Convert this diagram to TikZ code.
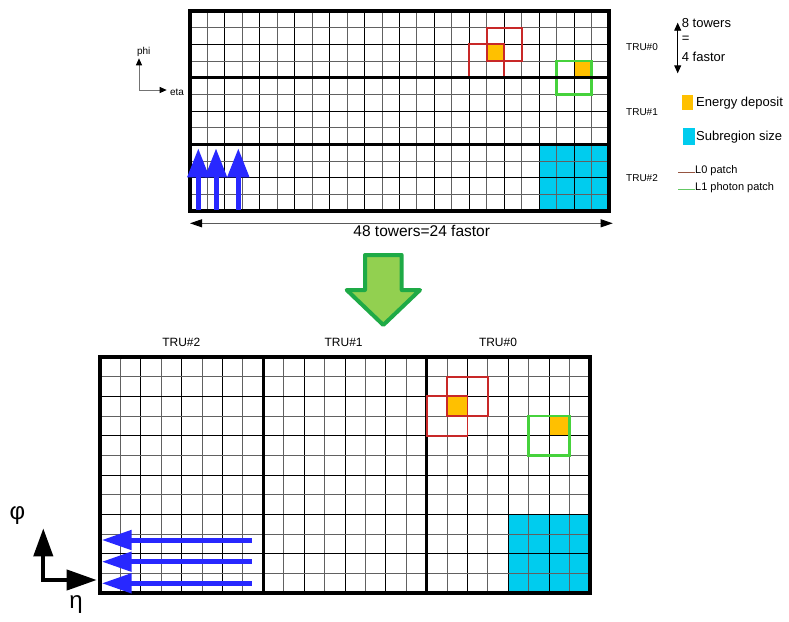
\documentclass[tikz,border=0pt]{standalone}
\usepackage{fontspec}
\setmainfont{Liberation Sans}
\usepackage{tikz}
\usetikzlibrary{arrows.meta}
\definecolor{depositorange}{RGB}{255,192,0}
\definecolor{subcyan}{RGB}{0,204,238}
\definecolor{flowblue}{RGB}{40,40,255}
\definecolor{lzerored}{RGB}{200,40,40}
\definecolor{lonegreen}{RGB}{70,210,60}
\definecolor{lzerokey}{RGB}{150,85,65}
\definecolor{lonekey}{RGB}{100,200,100}
\definecolor{bigarrowfill}{RGB}{146,208,80}
\definecolor{bigarrowedge}{RGB}{30,170,70}
\tikzset{
  gridthin/.style={
    line width = 1pt,
    black
  },
  gridlight/.style={
    line width = 1pt,
    black!62
  },
  truline/.style={
    line width = 3pt,
    black
  },
  frame/.style={
    line width = 4pt,
    black,
    line join = miter
  },
  lzero/.style={
    line width = 1.7pt,
    draw = lzerored
  },
  lone/.style={
    line width = 2.6pt,
    draw = lonegreen
  },
}
\tikzset{
  flowup/.style={
    line width = 5pt,
    flowblue,
    -{Triangle[length=29pt,width=21pt]}
  },
  flowleft/.style={
    line width = 5pt,
    flowblue,
    -{Triangle[length=30pt,width=19pt]}
  },
  axisbig/.style={
    line width = 4pt,
    black,
    line join = miter,
    {Triangle[length=28pt,width=19pt]}-{Triangle[length=30pt,width=20pt]}
  },
  axissmall/.style={
    line width = 0.8pt,
    black!55,
    {Triangle[length=7pt,width=6pt,color=black]}-{Triangle[length=7pt,width=6pt,color=black]}
  },
  span/.style={
    line width = 0.9pt,
    black!65,
    {Triangle[length=12pt,width=8pt,color=black]}-{Triangle[length=12pt,width=8pt,color=black]}
  },
  trulabel/.style={
    font = \fontsize{10}{12}\selectfont,
    inner sep = 0pt
  },
  keytext/.style={
    anchor = west,
    font = \fontsize{13}{15}\selectfont,
    inner sep = 0pt
  },
  patchtext/.style={
    anchor = west,
    font = \fontsize{11}{13}\selectfont,
    inner sep = 0pt
  },
  axislabel/.style={
    font = \fontsize{24}{26}\selectfont,
    inner sep = 0pt
  }
}
% cells and deposits, in units of one fastor
\newcommand{\fastorcells}{%
  \fill[subcyan] (20,8) rectangle (24,12);
  \fill[depositorange] (17,2) rectangle (18,3);
  \fill[depositorange] (22,3) rectangle (23,4);
  \foreach \i in {1,3,...,23} \draw[gridlight] (\i,0) -- (\i,12);
  \foreach \i in {2,4,...,22} \draw[gridthin] (\i,0) -- (\i,12);
  \foreach \j in {1,3,...,11} \draw[gridlight] (0,\j) -- (24,\j);
  \foreach \j in {2,4,...,10} \draw[gridthin] (0,\j) -- (24,\j);
}
\newcommand{\fastorpatches}{%
  \draw[lzero] (17,1) rectangle (19,3);
  \draw[lzero] (16,2) rectangle (18,4);
  \draw[lone] (21,3) rectangle (23,5);
}

\begin{document}
\begin{tikzpicture}[x=1pt, y=-1pt]
    \useasboundingbox (0,0) rectangle (789,621);

    % upper map, TRUs stacked in phi
    \begin{scope}[shift={(190,11)}, x=17.458pt, y=-16.667pt]
      \fastorcells
      \fastorpatches
      \foreach \j in {4,8} \draw[truline] (0,\j) -- (24,\j);
      \draw[frame] (0,0) rectangle (24,12);
    \end{scope}
    \foreach \x/\n in {198.3/a, 216/b, 238.3/c} {
      \coordinate (up\n) at (\x,210);
      \coordinate (up\n tip) at (\x,148.3);
      \draw[flowup] (up\n) -- (up\n tip);
    }
    \node[trulabel] (trutop0) at (642,46.7) {TRU\#0};
    \node[trulabel] (trutop1) at (642,111.7) {TRU\#1};
    \node[trulabel] (trutop2) at (642,178.3) {TRU\#2};

    \coordinate (phiend) at (139,58.3);
    \coordinate (etaend) at (166.7,90);
    \draw[axissmall] (phiend) |- (etaend);
    \node[trulabel] (philabel) at (143.7,51.7) {phi};
    \node[trulabel] (etalabel) at (177,92.3) {eta};

    \coordinate (widthL) at (190,223.3);
    \coordinate (widthR) at (612.7,223.3);
    \draw[span] (widthL) -- (widthR);
    \node[inner sep=0pt, font=\fontsize{15.5}{17}\selectfont] (widthlabel) at (421.7,230.5) {48 towers=24 fastor};

    % legend
    \coordinate (heightT) at (677.7,22.7);
    \coordinate (heightB) at (677.7,73.3);
    \draw[line width=0.9pt, {Triangle[length=8pt,width=7pt]}-{Triangle[length=8pt,width=7pt]}] (heightT) -- (heightB);
    \node[keytext] (towerstext) at (681.7,23.3) {8 towers};
    \node[keytext] (eqtext) at (681.7,39) {=};
    \node[keytext] (fastortext) at (681.7,56.7) {4 fastor};
    \fill[depositorange] (681.7,95) rectangle (693.3,110);
    \node[keytext] (deposittext) at (696,103.3) {Energy deposit};
    \fill[subcyan] (683,128.3) rectangle (695,145);
    \node[keytext] (subregiontext) at (696,136.7) {Subregion size};
    \coordinate (lzerokeyA) at (678,172.3);
    \coordinate (lzerokeyB) at (695,172.3);
    \draw[lzerokey, line width=1pt] (lzerokeyA) -- (lzerokeyB);
    \node[patchtext] (lzerotext) at (695,170.3) {L0 patch};
    \coordinate (lonekeyA) at (678,189.3);
    \coordinate (lonekeyB) at (695,189.3);
    \draw[lonekey, line width=1pt] (lonekeyA) -- (lonekeyB);
    \node[patchtext] (lonetext) at (695,187.3) {L1 photon patch};

    % big arrow between the maps
    \draw[fill=bigarrowfill, draw=bigarrowedge, line width=4pt, line join=round]
      (365,255) -- (401.7,255) -- (401.7,290) -- (420,290) -- (383.3,325)
      -- (346.7,290) -- (365,290) -- cycle;

    % lower map, TRUs side by side in eta
    \begin{scope}[shift={(100,357)}, x=20.417pt, y=-19.667pt]
      \fastorcells
      \foreach \i in {8,16} \draw[truline] (\i,0) -- (\i,12);
      \fastorpatches
      \draw[frame] (0,0) rectangle (24,12);
    \end{scope}
    \foreach \y/\n in {540/a, 561.7/b, 583.3/c} {
      \coordinate (left\n) at (251.7,\y);
      \coordinate (left\n tip) at (101.7,\y);
      \draw[flowleft] (left\n) -- (left\n tip);
    }
    \node[trulabel, font=\fontsize{12}{14}\selectfont] (trubot2) at (181.3,342.3) {TRU\#2};
    \node[trulabel, font=\fontsize{12}{14}\selectfont] (trubot1) at (343.6,342.3) {TRU\#1};
    \node[trulabel, font=\fontsize{12}{14}\selectfont] (trubot0) at (498,342.3) {TRU\#0};

    \coordinate (phitip) at (43.3,528.3);
    \coordinate (etatip) at (96.7,580);
    \draw[axisbig] (phitip) |- (etatip);
    \node[axislabel] (phisym) at (17.5,516) {φ};
    \node[axislabel] (etasym) at (76,605) {η};
\end{tikzpicture}
\end{document}
